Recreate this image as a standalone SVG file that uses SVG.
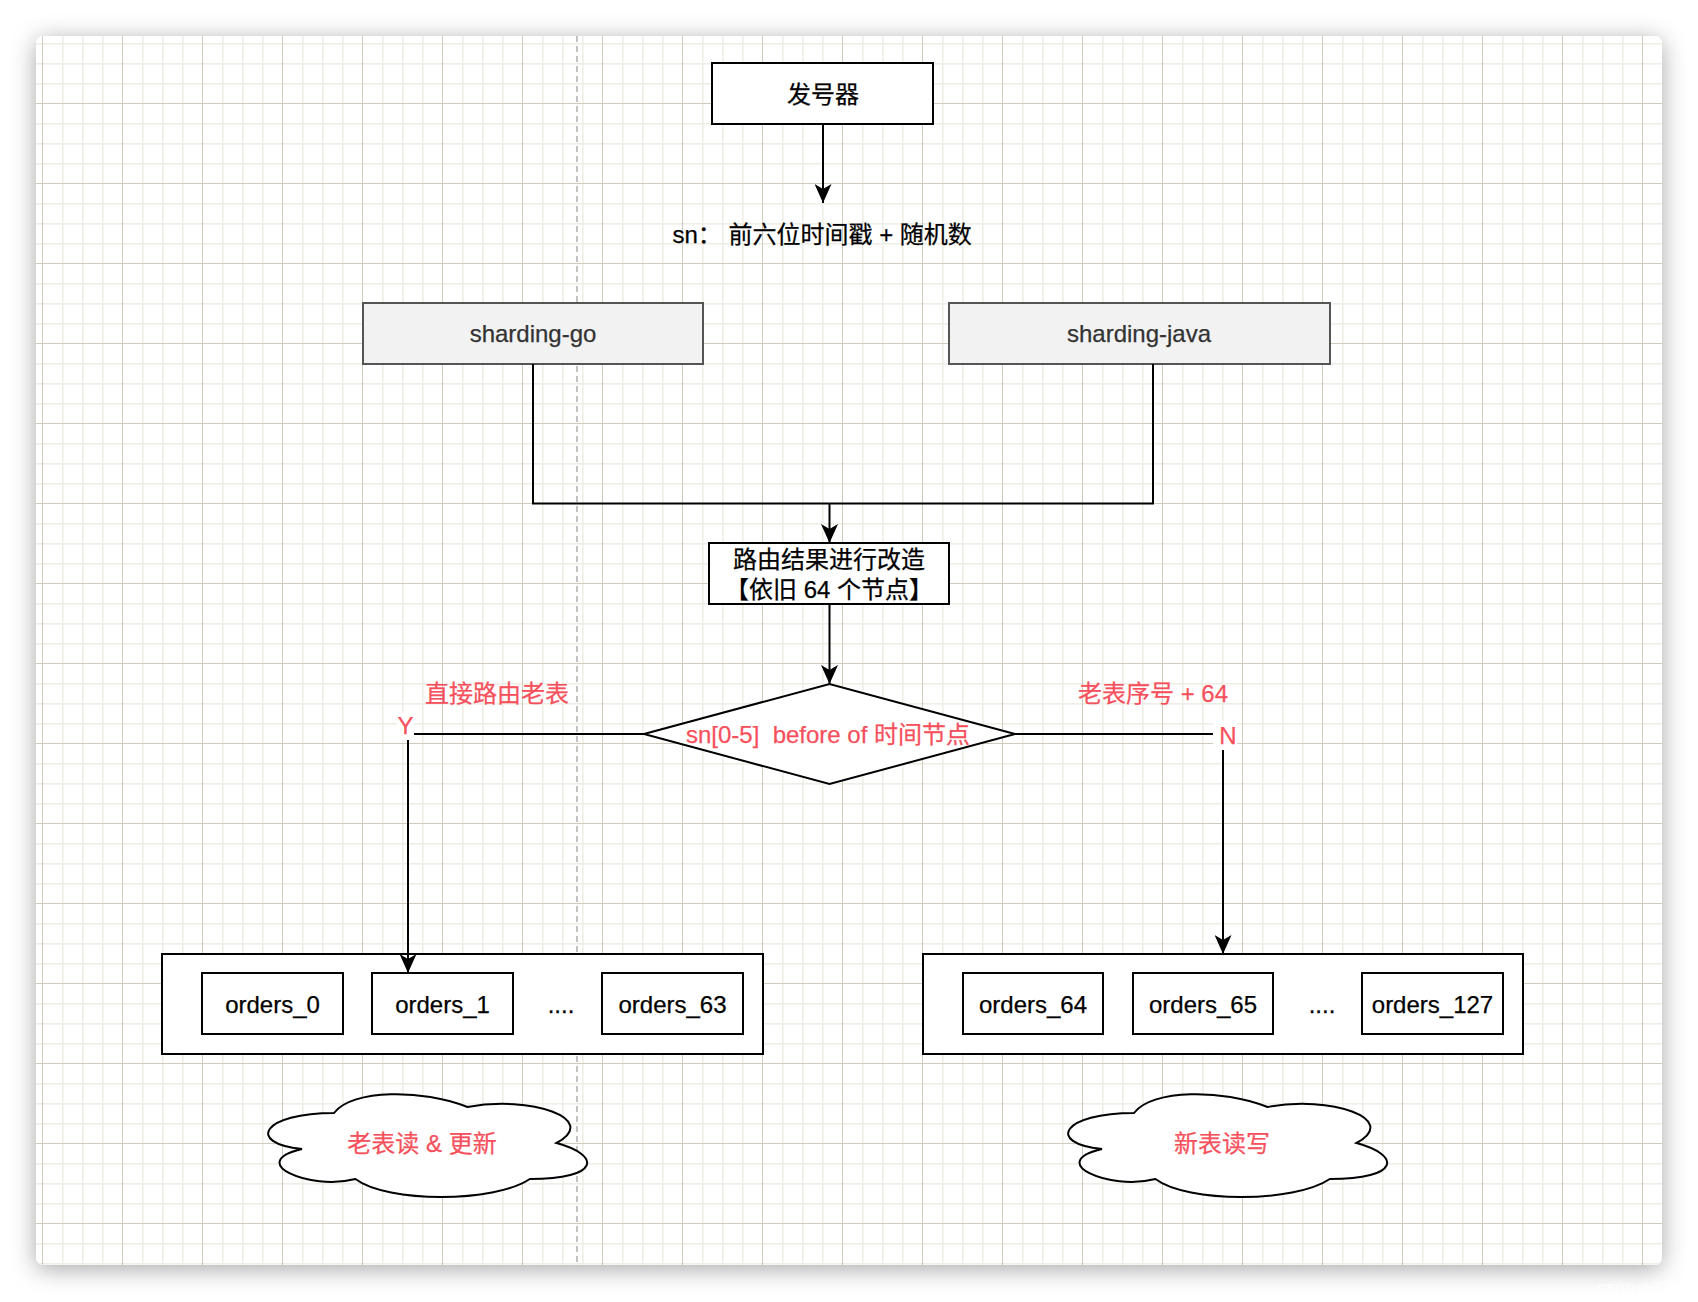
<svg xmlns="http://www.w3.org/2000/svg" width="1698" height="1302" viewBox="0 0 1698 1302">
<style>
.t{font-family:"Liberation Sans","Noto Sans CJK SC",sans-serif;font-size:24px;fill:#000;text-anchor:middle;stroke:currentColor;stroke-width:0.25}
.t{color:#000}
.g{fill:#333;color:#333}
.r{fill:#f5505c;color:#f5505c}
.box{fill:#fff;stroke:#000;stroke-width:2}
.gbox{fill:#f2f2f2;stroke:#555;stroke-width:2}
.edge{fill:none;stroke:#000;stroke-width:2}
.arr{fill:none;stroke:#000;stroke-width:2;marker-end:url(#ah)}
</style>
<defs>
<pattern id="grid" patternUnits="userSpaceOnUse" x="42" y="23" width="80" height="80">
<rect x="0" y="0" width="80" height="80" fill="#fff"/>
<rect x="20" y="0" width="1.6" height="80" fill="#efeee6"/>
<rect x="40" y="0" width="1.6" height="80" fill="#efeee6"/>
<rect x="60" y="0" width="1.6" height="80" fill="#efeee6"/>
<rect x="0" y="20" width="80" height="1.6" fill="#efeee6"/>
<rect x="0" y="40" width="80" height="1.6" fill="#efeee6"/>
<rect x="0" y="60" width="80" height="1.6" fill="#efeee6"/>
<rect x="0" y="0" width="1" height="80" fill="#cfcab9"/>
<rect x="0" y="0" width="80" height="1" fill="#cfcab9"/>
</pattern>
<filter id="sh" x="-10%" y="-10%" width="120%" height="120%">
<feDropShadow dx="0" dy="4" stdDeviation="12" flood-color="#000" flood-opacity="0.35"/>
</filter>
<marker id="ah" markerUnits="userSpaceOnUse" viewBox="0 0 19 17" refX="19" refY="8.5" markerWidth="19" markerHeight="17" orient="auto">
<path d="M0,0 L19,8.5 L0,17 L5,8.5 Z" fill="#000"/>
</marker>
<path id="cloud" d="M89,30 C17.8,30 0,60 57,66 C0,79.2 64.1,108 110.4,96 C142.4,120 249.2,120 284.8,96 C356,96 356,72 311.5,60 C356,36 284.8,12 222.5,24 C178,6 106.8,6 89,30 Z"/>
</defs>
<rect width="1698" height="1302" fill="#fff"/>
<rect x="36" y="36" width="1626" height="1229" rx="8" fill="#fff" filter="url(#sh)"/>
<rect x="36" y="36" width="1626" height="1229" rx="8" fill="url(#grid)"/>
<line x1="577" y1="36" x2="577" y2="1265" stroke="#b4b4b4" stroke-width="1.6" stroke-dasharray="6 4"/>

<g id="issuer">
<rect class="box" x="712" y="63" width="221" height="61"/>
<text class="t" x="823" y="103">发号器</text>
</g>
<g id="sn">
<text class="t" x="672.5" y="243" style="text-anchor:start">sn： 前六位时间戳 + 随机数</text>
</g>
<g id="sharding-go">
<rect class="gbox" x="363" y="303" width="340" height="61"/>
<text class="t g" x="533" y="342">sharding-go</text>
</g>
<g id="sharding-java">
<rect class="gbox" x="949" y="303" width="381" height="61"/>
<text class="t g" x="1139" y="342">sharding-java</text>
</g>
<g id="route">
<rect class="box" x="709" y="543" width="240" height="61"/>
<text class="t" x="829" y="567.5">路由结果进行改造</text>
<text class="t" x="829" y="597.5">【依旧 64 个节点】</text>
</g>
<g id="decision">
<polygon class="box" points="644,734 829.5,684 1015,734 829.5,784"/>
<text class="t r" x="828" y="743" xml:space="preserve">sn[0-5]  before of 时间节点</text>
</g>
<g id="old-tables">
<rect class="box" x="162" y="954" width="601" height="100"/>
<rect class="box" x="202" y="973" width="141" height="61"/>
<text class="t" x="272.5" y="1013">orders_0</text>
<rect class="box" x="372" y="973" width="141" height="61"/>
<text class="t" x="442.5" y="1013">orders_1</text>
<text class="t" x="561" y="1013">....</text>
<rect class="box" x="602" y="973" width="141" height="61"/>
<text class="t" x="672.5" y="1013">orders_63</text>
</g>
<g id="new-tables">
<rect class="box" x="923" y="954" width="600" height="100"/>
<rect class="box" x="963" y="973" width="140" height="61"/>
<text class="t" x="1033" y="1013">orders_64</text>
<rect class="box" x="1133" y="973" width="140" height="61"/>
<text class="t" x="1203" y="1013">orders_65</text>
<text class="t" x="1322" y="1013">....</text>
<rect class="box" x="1362" y="973" width="141" height="61"/>
<text class="t" x="1432.5" y="1013">orders_127</text>
</g>
<g id="cloud-old">
<use href="#cloud" transform="translate(245,1083)" class="box"/>
<text class="t r" x="422" y="1152">老表读 &amp; 更新</text>
</g>
<g id="cloud-new">
<use href="#cloud" transform="translate(1045,1083)" class="box"/>
<text class="t r" x="1222" y="1152">新表读写</text>
</g>

<g id="connectors">
<path class="arr" d="M823,124 V203"/>
<path class="edge" d="M533,364 V503.5 H829.5"/>
<path class="edge" d="M1153,364 V503.5 H829.5"/>
<path class="arr" d="M829.5,503.5 V543"/>
<path class="arr" d="M829.5,604 V684"/>
<path class="arr" d="M644,734 H408 V973"/>
<path class="arr" d="M1015,734 H1223 V954"/>
<rect x="397" y="713" width="17" height="27" fill="#fff"/>
<text class="t r" x="405.5" y="733.5">Y</text>
<rect x="1213" y="721" width="24" height="29" fill="#fff"/>
<text class="t r" x="1228" y="743.5">N</text>
<text class="t r" x="497" y="702">直接路由老表</text>
<text class="t r" x="1153" y="702">老表序号 + 64</text>
</g>
<text x="1641" y="1293" style="font-family:'Liberation Sans','Noto Sans CJK SC',sans-serif;font-size:13px;fill:#fff;text-anchor:middle" opacity="0.8">CSDN @浮~沉</text>
</svg>
